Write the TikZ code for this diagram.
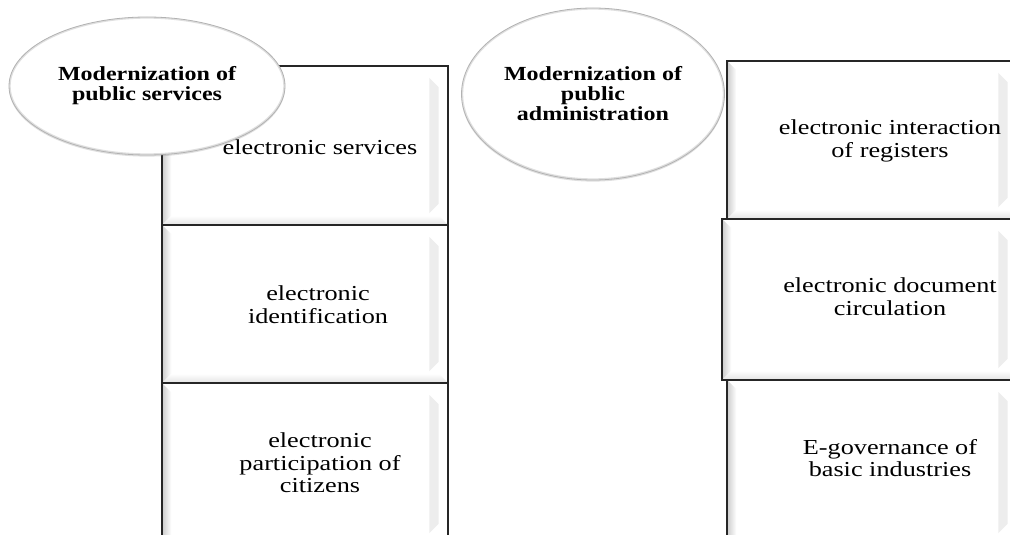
\documentclass[tikz,border=0pt]{standalone}
\usepackage{fontspec}
\setmainfont{Liberation Serif}
\newfontfamily\titlefont[FakeStretch=1.2]{Liberation Serif}
\newfontfamily\boxfont[FakeStretch=1.23]{Liberation Serif}
\usetikzlibrary{shapes.geometric,shadows,calc}
\tikzset{
  pbox/.style={rectangle, draw=black!85, line width=1.2pt, fill=white, inner sep=0pt,
    path picture={
      \path (path picture bounding box.south west) coordinate (@sw)
            (path picture bounding box.north east) coordinate (@ne)
            (path picture bounding box.north west) coordinate (@nw)
            (path picture bounding box.south east) coordinate (@se);
      \shade[left color=gray!40, right color=white]
        (@sw) -- (@nw) -- ([shift={(7pt,-7pt)}]@nw) -- ([shift={(7pt,7pt)}]@sw) -- cycle;
      \fill[gray!14]
        ([shift={(-14pt,-9pt)}]@ne) -- ([shift={(-7pt,-16pt)}]@ne)
        -- ([shift={(-7pt,16pt)}]@se) -- ([shift={(-14pt,9pt)}]@se) -- cycle;
      \shade[top color=white, bottom color=gray!22]
        ([shift={(7pt,7pt)}]@sw) -- ([shift={(-7pt,7pt)}]@se) -- (@se) -- (@sw) -- cycle;
    }},
  pell/.style={ellipse, draw=gray!60, line width=0.6pt, fill=white, inner sep=0pt,
    drop shadow={opacity=0.25, shadow xshift=0pt, shadow yshift=-1.2pt},
    path picture={
      \draw let \p1=(path picture bounding box.north east),
                \p2=(path picture bounding box.center) in
        [gray!14, line width=7pt] (\p2) ellipse [x radius={\x1-\x2}, y radius={\y1-\y2}]
        [gray!25, line width=2.5pt] (\p2) ellipse [x radius={\x1-\x2}, y radius={\y1-\y2}];
    },
    font=\titlefont\fontsize{15}{15}\selectfont\bfseries, align=center},
  ptext/.style={font=\boxfont\fontsize{16}{17}\selectfont, align=center, inner sep=0pt}
}
\begin{document}
\begin{tikzpicture}[x=0.75pt,y=-0.75pt]
\useasboundingbox (0,0) rectangle (1010,535);
\clip (0,0) rectangle (1010,535);
% left column boxes
\node[pbox, minimum width=214.5pt, minimum height=119.25pt] (b1) at (305,145.5) {};
\node[pbox, minimum width=214.5pt, minimum height=118.5pt] (b2) at (305,304) {};
\node[pbox, minimum width=214.5pt, minimum height=121.5pt] (b3) at (305,464) {};
% right column boxes
\node[pbox, minimum width=217.5pt, minimum height=118.5pt] (r1) at (872,140) {};
\node[pbox, minimum width=221.25pt, minimum height=120.75pt] (r2) at (869.5,299.5) {};
\node[pbox, minimum width=217.5pt, minimum height=123.75pt] (r3) at (872,462.5) {};
% box texts
\node[ptext] (t1) at (320,147) {electronic services};
\node[ptext] (t2) at (318,305) {electronic\\identification};
\node[ptext] (t3) at (320,463) {electronic\\participation of\\citizens};
\node[ptext] (u1) at (890,141) {electronic interaction\\of registers};
\node[ptext] (u2) at (890,297) {electronic document\\circulation};
\node[ptext] (u3) at (890,458) {E-governance of\\basic industries};
% ellipses
\node[pell, minimum width=207pt, minimum height=103.5pt] (e1) at (147,86) {\raisebox{-2.5pt}{\begin{tabular}{@{}c@{}}Modernization of\\public services\end{tabular}}};
\node[pell, minimum width=197.25pt, minimum height=129pt] (e2) at (593,94) {Modernization of\\public\\administration};
\end{tikzpicture}
\end{document}
